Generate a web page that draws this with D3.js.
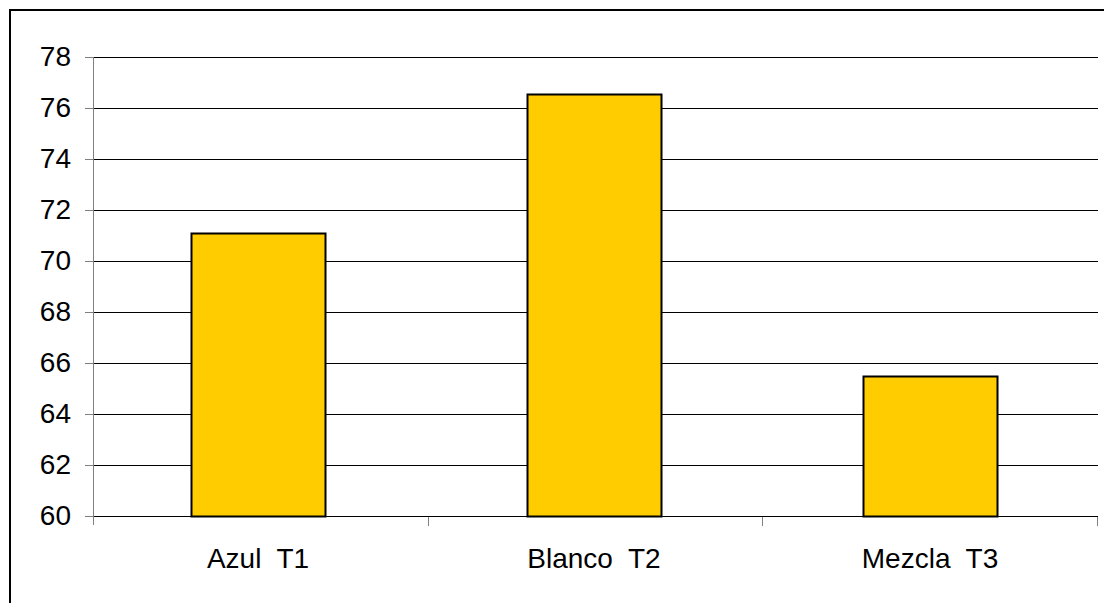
<!DOCTYPE html>
<html>
<head>
<meta charset="utf-8">
<script src="https://cdn.jsdelivr.net/npm/d3@7"></script>
<style>
  body { margin: 0; background: #fff; }
  svg { display: block; font-family: "Liberation Sans", Arial, sans-serif; }
</style>
</head>
<body>
<div id="viz"></div>
<script>
// data
const categories = ["Azul  T1", "Blanco  T2", "Mezcla  T3"];
const values = [71.1, 76.55, 65.5];
const yTicks = [60, 62, 64, 66, 68, 70, 72, 74, 76, 78];

const W = 1104, H = 603;
const margin = {top: 57, right: 6, bottom: 87, left: 94};
const iw = W - margin.left - margin.right;
const ih = H - margin.top - margin.bottom;

const svg = d3.select("#viz").append("svg")
  .attr("width", W).attr("height", H);

// outer chart frame (runs off right/bottom edge)
svg.append("rect")
  .attr("x", 10).attr("y", 10)
  .attr("width", W + 20).attr("height", H + 20)
  .attr("fill", "none").attr("stroke", "#000").attr("stroke-width", 2);

const g = svg.append("g").attr("transform", `translate(${margin.left},${margin.top})`);

const x = d3.scaleBand()
  .domain(categories)
  .range([-4, iw])
  .paddingInner(0.6)
  .paddingOuter(0.3);

const y = d3.scaleLinear()
  .domain([60, 78])
  .range([ih, 0]);

// gridlines
g.append("g")
  .selectAll("line")
  .data(yTicks)
  .join("line")
  .attr("x1", 0).attr("x2", iw)
  .attr("y1", d => Math.round(y(d)) + 0.5)
  .attr("y2", d => Math.round(y(d)) + 0.5)
  .attr("stroke", "#000").attr("stroke-width", 1);

// bars
g.append("g")
  .selectAll("rect")
  .data(values)
  .join("rect")
  .attr("x", (d, i) => Math.round(x(categories[i])) + 0.5)
  .attr("y", d => Math.round(y(d)) + 0.5)
  .attr("width", Math.round(x.bandwidth()))
  .attr("height", d => Math.round(y(60)) - Math.round(y(d)))
  .attr("fill", "#FFCC00")
  .attr("stroke", "#000")
  .attr("stroke-width", 2);

// y axis
const yAxis = g.append("g")
  .call(d3.axisLeft(y).tickValues(yTicks).tickSize(9).tickPadding(14).tickSizeOuter(0));
yAxis.select(".domain").attr("stroke", "#808080").attr("d", `M-0.5,0V${ih + 9}`);
yAxis.selectAll(".tick line").attr("stroke", "#808080");
yAxis.selectAll("text").attr("font-size", 28).attr("fill", "#000")
  .attr("font-family", "'Liberation Sans', Arial, sans-serif");

// x axis: ticks at category boundaries
const xb = d3.scaleLinear().domain([0, 3]).range([0, iw]);
const xAxis = g.append("g").attr("transform", `translate(0,${ih})`);
xAxis.append("path")
  .attr("d", `M0,0.5H${iw}`)
  .attr("stroke", "#000");
xAxis.selectAll("line.tk")
  .data([1, 2, 3])
  .join("line")
  .attr("class", "tk")
  .attr("x1", d => Math.round(xb(d)) - 0.5).attr("x2", d => Math.round(xb(d)) - 0.5)
  .attr("y1", 1).attr("y2", 10)
  .attr("stroke", "#808080");
xAxis.selectAll("text")
  .data(categories)
  .join("text")
  .attr("x", d => x(d) + x.bandwidth() / 2)
  .attr("y", 52)
  .attr("text-anchor", "middle")
  .attr("font-size", 28)
  .attr("fill", "#000")
  .style("white-space", "pre")
  .attr("xml:space", "preserve")
  .text(d => d);
</script>
</body>
</html>
